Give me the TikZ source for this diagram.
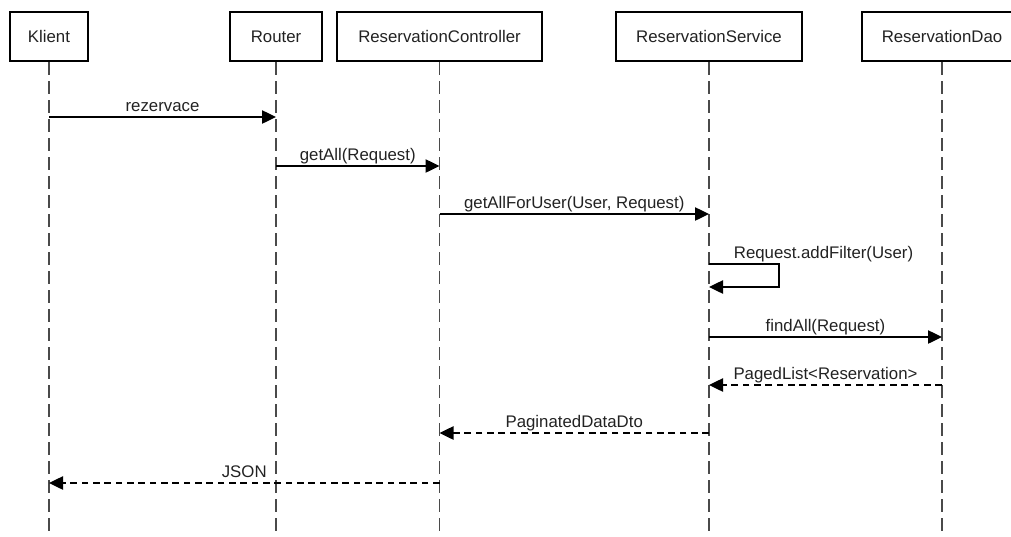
\documentclass[tikz,border=0pt]{standalone}
\usepackage{fontspec}
\setmainfont{Liberation Sans}
\usetikzlibrary{arrows.meta}
\definecolor{txt}{HTML}{222222}
\definecolor{lifegray}{HTML}{4A4A4A}
\tikzset{
  actorbox/.style={draw=black, line width=1.6pt, fill=white, text=txt,
    minimum height=49*0.75pt, inner sep=0pt,
    font=\fontsize{12.6}{15}\selectfont},
  lifeline/.style={draw=lifegray, line width=1.4pt, dash pattern=on 9.75pt off 4.5pt},
  msgline/.style={draw=black, line width=1pt, -{Triangle[length=10.5pt,width=10pt]}},
  retline/.style={msgline, dash pattern=on 5pt off 3.5pt},
  msglabel/.style={text=txt, anchor=base, inner sep=0pt,
    font=\fontsize{12.6}{15}\selectfont},
}
\begin{document}
\begin{tikzpicture}[x=0.75pt, y=-0.75pt]
\useasboundingbox (0,0) rectangle (1011,536);
\clip (0,0) rectangle (1011,536);
% lifeline boxes
\node[actorbox, minimum width=78*0.75pt]  (klient) at (49,36.5) {Klient};
\node[actorbox, minimum width=92*0.75pt]  (router) at (276,36.5) {Router};
\node[actorbox, minimum width=205*0.75pt] (ctrl)   at (439.5,36.5) {ReservationController};
\node[actorbox, minimum width=186*0.75pt] (svc)    at (709,36.5) {ReservationService};
\node[actorbox, minimum width=160*0.75pt] (dao)    at (942,36.5) {ReservationDao};
% lifeline ends
\coordinate (bottom) at (0,540);
\coordinate (klientEnd) at (klient.south |- bottom);
\coordinate (routerEnd) at (router.south |- bottom);
\coordinate (ctrlEnd)   at (ctrl.south |- bottom);
\coordinate (svcEnd)    at (svc.south |- bottom);
\coordinate (daoEnd)    at (dao.south |- bottom);
\draw[lifeline] (klient.south) -- (klientEnd);
\draw[lifeline] (router.south) -- (routerEnd);
\draw[lifeline] (ctrl.south) -- (ctrlEnd);
\draw[lifeline] (svc.south) -- (svcEnd);
\draw[lifeline] (dao.south) -- (daoEnd);
% message rows
\coordinate (m1) at (0,117);
\coordinate (m2) at (0,166);
\coordinate (m3) at (0,214);
\coordinate (m4a) at (0,264);
\coordinate (m4b) at (0,287);
\coordinate (m4x) at (779,0);
\coordinate (m5) at (0,337);
\coordinate (m6) at (0,385);
\coordinate (m7) at (0,433);
\coordinate (m8) at (0,483);
% messages
\draw[msgline] (klient |- m1) -- node[msglabel, yshift=5.5*0.75pt] (l1) {rezervace} (router |- m1);
\draw[msgline] (router |- m2) -- node[msglabel, yshift=5.5*0.75pt] (l2) {getAll(Request)} (ctrl |- m2);
\draw[msgline] (ctrl |- m3) -- node[msglabel, yshift=5.5*0.75pt] (l3) {getAllForUser(User, Request)} (svc |- m3);
\draw[msgline] (svc |- m4a) -- (m4x |- m4a) -- (m4x |- m4b) -- (svc |- m4b);
\node[msglabel] (l4) at (823.5,258) {Request.addFilter(User)};
\draw[msgline] (svc |- m5) -- node[msglabel, yshift=5.5*0.75pt] (l5) {findAll(Request)} (dao |- m5);
\draw[retline] (dao |- m6) -- node[msglabel, yshift=5.5*0.75pt] (l6) {PagedList<Reservation>} (svc |- m6);
\draw[retline] (svc |- m7) -- node[msglabel, yshift=5.5*0.75pt] (l7) {PaginatedDataDto} (ctrl |- m7);
\draw[retline] (ctrl |- m8) -- node[msglabel, yshift=5.5*0.75pt] (l8) {JSON} (klient |- m8);
\end{tikzpicture}
\end{document}
